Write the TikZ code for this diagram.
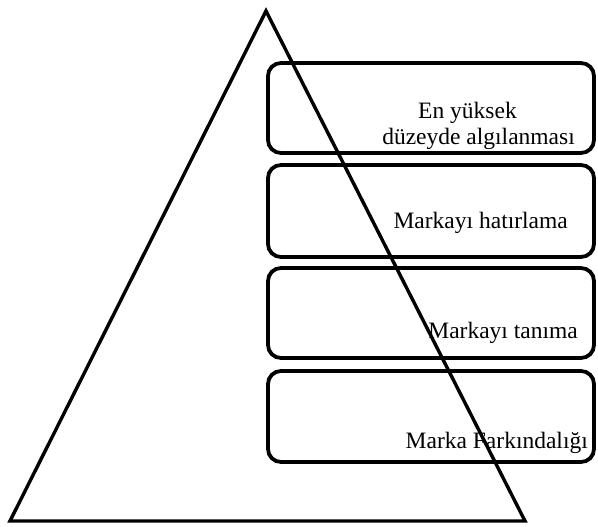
\documentclass[tikz,border=0pt]{standalone}
\usepackage{fontspec}
\setmainfont{Liberation Serif}
\begin{document}
\begin{tikzpicture}[x=1pt,y=-1pt,
  level/.style={draw=black,line width=3.8pt,rounded corners=13pt},
  label/.style={inner sep=0pt,font=\fontsize{23.5}{27}\selectfont,anchor=base east},
  pyramid/.style={draw=black,line width=3.4pt,line join=miter}]
  \useasboundingbox (0,0) rectangle (598,527);
  % stacked levels
  \draw[level] (268,63) rectangle (594,153);
  \draw[level] (268,165) rectangle (594,257);
  \draw[level] (268,268) rectangle (594,358);
  \draw[level] (268,371) rectangle (594,462);
  % level labels
  \node[label] (l1a) at (517,118) {En yüksek};
  \node[label] (l1b) at (575,145) {düzeyde algılanması};
  \node[label] (l2) at (568,228) {Markayı hatırlama};
  \node[label] (l3) at (578,338) {Markayı tanıma};
  \node[label] (l4) at (588,448) {Marka Farkındalığı};
  % pyramid outline
  \draw[pyramid] (266,11) -- (525,521) -- (10,521) -- cycle;
\end{tikzpicture}
\end{document}
